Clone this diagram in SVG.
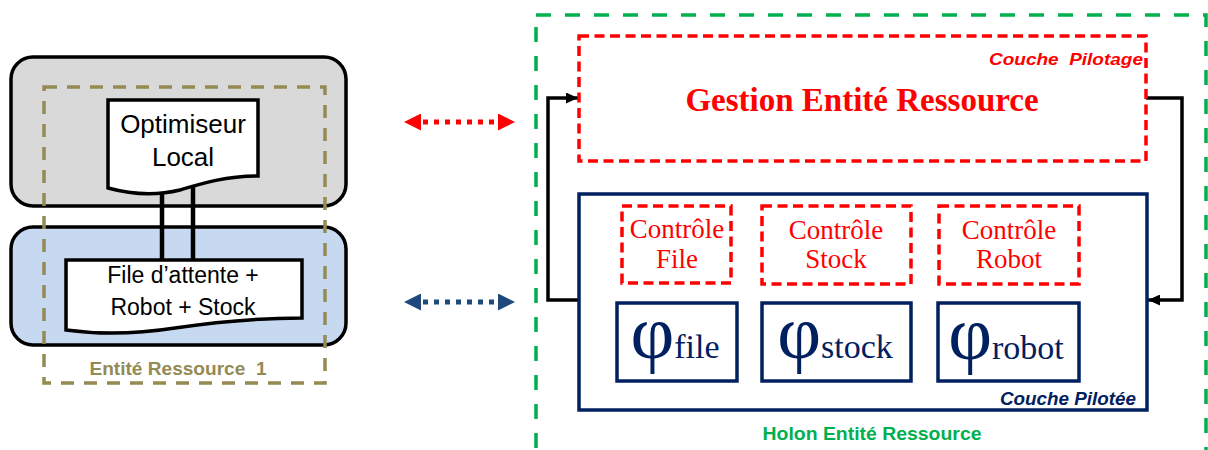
<svg xmlns="http://www.w3.org/2000/svg" width="1208" height="450" viewBox="0 0 1208 450">
<style>
.sans{font-family:"Liberation Sans",Arial,sans-serif}
.serif{font-family:"Liberation Serif","Times New Roman",serif}
.blk{stroke:#000;stroke-width:3.5;fill:none}
.reddash{fill:none;stroke:#FF0000;stroke-width:3.5;stroke-dasharray:10 5.5}
.navy{fill:none;stroke:#002060;stroke-width:3.5}
.ctl{font-family:"Liberation Serif","Times New Roman",serif;font-size:27px;fill:#FF0000;text-anchor:middle}
.phi{font-family:"Liberation Serif","Times New Roman",serif;fill:#002060;text-anchor:middle}
</style>
<defs>
<marker id="ah" viewBox="0 0 12 11" refX="12" refY="5.5" markerWidth="12" markerHeight="11" markerUnits="userSpaceOnUse" orient="auto">
<path d="M0,0 L12,5.5 L0,11 Z" fill="#000"/>
</marker>
<marker id="ahRed" viewBox="0 0 17 17" refX="0" refY="8.5" markerWidth="17" markerHeight="17" markerUnits="userSpaceOnUse" orient="auto-start-reverse">
<path d="M0,0 L17,8.5 L0,17 Z" fill="#FF0000"/>
</marker>
<marker id="ahBlue" viewBox="0 0 17 17" refX="0" refY="8.5" markerWidth="17" markerHeight="17" markerUnits="userSpaceOnUse" orient="auto-start-reverse">
<path d="M0,0 L17,8.5 L0,17 Z" fill="#1F497D"/>
</marker>
</defs>
<rect width="1208" height="450" fill="#FFFFFF"/>

<!-- Left side -->
<g id="couche-sup">
<rect x="11" y="57" width="335" height="149" rx="22" ry="22" fill="#D9D9D9" stroke="#000" stroke-width="3.5"/>
</g>
<g id="couche-inf">
<rect x="11" y="227" width="335" height="118" rx="22" ry="22" fill="#C6D9F1" stroke="#000" stroke-width="3.5"/>
</g>
<g id="entite-ressource-1">
<rect x="44" y="87" width="281" height="296" fill="none" stroke="#948A54" stroke-width="3.5" stroke-dasharray="13 10"/>
<text x="178" y="375" class="sans" font-size="18" font-weight="bold" fill="#948A54" text-anchor="middle" textLength="177" lengthAdjust="spacingAndGlyphs" xml:space="preserve">Entité Ressource  1</text>
</g>

<g id="connectors">
<line x1="162" y1="190" x2="162" y2="261" stroke="#000" stroke-width="4.5"/>
<line x1="193" y1="184" x2="193" y2="261" stroke="#000" stroke-width="4.5"/>
<path d="M579,300 H548 V98 H578" class="blk" marker-end="url(#ah)"/>
<path d="M1146,98 H1182 V300 H1148" class="blk" marker-end="url(#ah)"/>
<line x1="421" y1="122" x2="498" y2="122" stroke="#FF0000" stroke-width="5" stroke-dasharray="5 6" stroke-dashoffset="-2" marker-start="url(#ahRed)" marker-end="url(#ahRed)"/>
<line x1="421" y1="302" x2="498" y2="302" stroke="#1F497D" stroke-width="5" stroke-dasharray="5 6" stroke-dashoffset="-2" marker-start="url(#ahBlue)" marker-end="url(#ahBlue)"/>
</g>

<g id="optimiseur-local">
<path d="M108,100 H258 V176 C225,176 200,184 180,190 C155,196 130,194 108,188 Z" fill="#FFFFFF" stroke="#000" stroke-width="3.5"/>
<text x="183" y="133" class="sans" font-size="26" text-anchor="middle" fill="#000">Optimiseur</text>
<text x="183" y="166" class="sans" font-size="26" text-anchor="middle" fill="#000">Local</text>
</g>

<g id="file-robot-stock">
<path d="M66,260 H302 V318 C255,318 215,322 175,328 C130,335 95,334 66,330 Z" fill="#FFFFFF" stroke="#000" stroke-width="3.5"/>
<text x="183" y="283" class="sans" font-size="23" text-anchor="middle" fill="#000">File d’attente +</text>
<text x="183" y="315" class="sans" font-size="23" text-anchor="middle" fill="#000">Robot + Stock</text>
</g>

<!-- Right side -->
<g id="holon-entite-ressource">
<rect x="536" y="15" width="670" height="460" fill="none" stroke="#00B050" stroke-width="3.5" stroke-dasharray="15 14"/>
<text x="872" y="440" class="sans" font-size="19" font-weight="bold" fill="#00B050" text-anchor="middle" textLength="219" lengthAdjust="spacingAndGlyphs">Holon Entité Ressource</text>
</g>

<g id="couche-pilotage">
<rect x="579" y="36" width="567" height="125" class="reddash"/>
<text x="1143" y="65" class="sans" font-size="17" font-weight="bold" font-style="italic" fill="#FF0000" text-anchor="end" textLength="154" lengthAdjust="spacingAndGlyphs" xml:space="preserve">Couche  Pilotage</text>
<text x="862" y="111" class="serif" font-size="33" font-weight="bold" fill="#FF0000" text-anchor="middle">Gestion Entité Ressource</text>
</g>

<g id="couche-pilotee">
<rect x="579" y="194" width="568" height="216" class="navy"/>
<text x="1136" y="405" class="sans" font-size="18" font-weight="bold" font-style="italic" fill="#002060" text-anchor="end" textLength="136" lengthAdjust="spacingAndGlyphs">Couche Pilotée</text>
</g>

<g id="controle-file">
<rect x="622" y="206" width="109" height="77" class="reddash"/>
<text x="677" y="238" class="ctl">Contrôle</text>
<text x="677" y="268" class="ctl">File</text>
</g>
<g id="controle-stock">
<rect x="762" y="206" width="149" height="78" class="reddash"/>
<text x="836" y="239" class="ctl">Contrôle</text>
<text x="836" y="268" class="ctl">Stock</text>
</g>
<g id="controle-robot">
<rect x="939" y="206" width="140" height="78" class="reddash"/>
<text x="1009" y="239" class="ctl">Contrôle</text>
<text x="1009" y="268" class="ctl">Robot</text>
</g>

<g id="phi-file">
<rect x="617" y="303" width="120" height="78" class="navy"/>
<text x="675" y="358" class="phi"><tspan font-size="76">φ</tspan><tspan font-size="34">file</tspan></text>
</g>
<g id="phi-stock">
<rect x="762" y="303" width="149" height="78" class="navy"/>
<text x="835" y="358" class="phi"><tspan font-size="76">φ</tspan><tspan font-size="34">stock</tspan></text>
</g>
<g id="phi-robot">
<rect x="938" y="303" width="141" height="78" class="navy"/>
<text x="1006" y="359" class="phi"><tspan font-size="76">φ</tspan><tspan font-size="34">robot</tspan></text>
</g>
</svg>
